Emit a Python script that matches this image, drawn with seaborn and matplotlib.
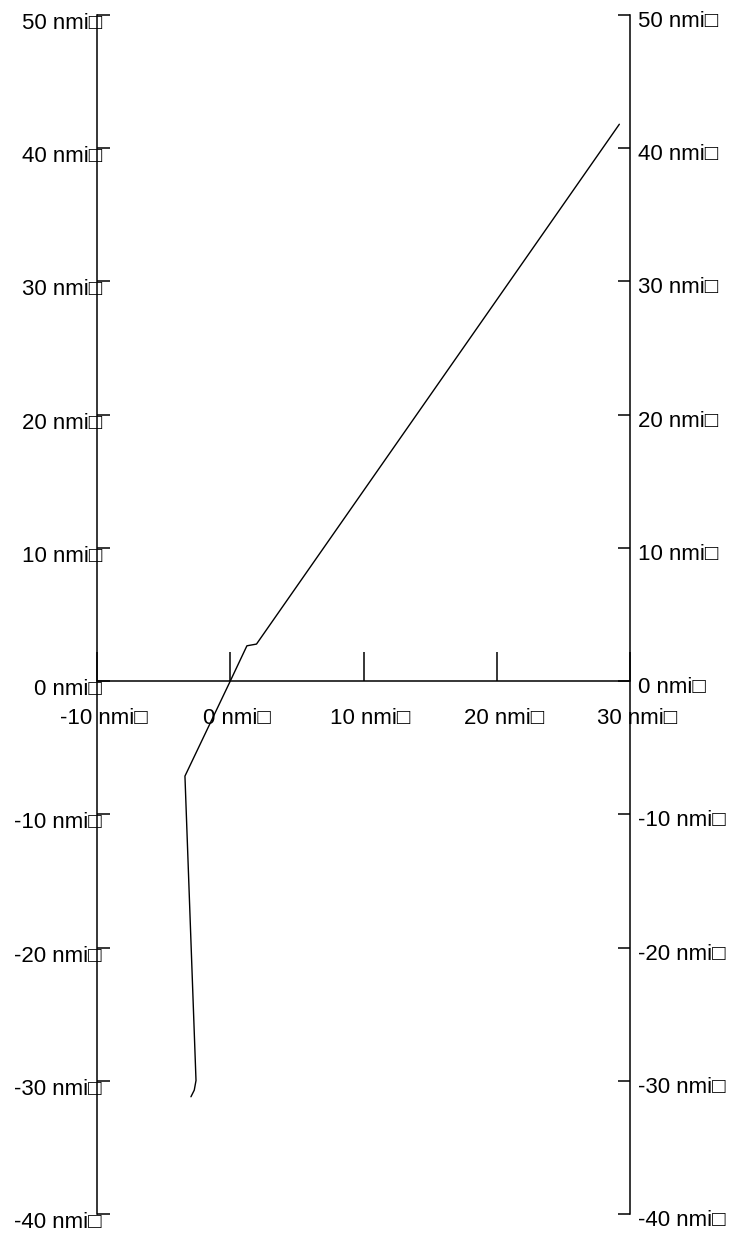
import numpy as np
import pandas as pd
import matplotlib
matplotlib.use("Agg")
import matplotlib.pyplot as plt
import matplotlib.transforms as mtransforms
import seaborn as sns

# track positions (nmi)
track_x = [29.2, 1.97, 1.25, 0.0, -3.4, -2.57, -2.7, -2.95]
track_y = [41.8, 2.78, 2.65, 0.0, -7.13, -29.98, -30.7, -31.2]

x_ticks = [-10, 0, 10, 20, 30]
y_ticks = [-40, -30, -20, -10, 0, 10, 20, 30, 40, 50]
unit = "nmi\u25a1"

sns.set_style("white")
plt.rcParams['font.family'] = ['Liberation Sans', 'DejaVu Sans']

fig = plt.figure(figsize=(7.35, 12.34), dpi=100)
ax = fig.add_axes([97 / 735, 20 / 1234, 533 / 735, 1199 / 1234])

df = pd.DataFrame({"x": track_x, "y": track_y})
sns.lineplot(data=df, x="x", y="y", sort=False, estimator=None,
             color="black", lw=1.0, ax=ax)

ax.set_xlim(-10, 30)
ax.set_ylim(-40, 50)
ax.set_xlabel("")
ax.set_ylabel("")

ax.spines['top'].set_visible(False)
ax.spines['bottom'].set_position(('data', 0))
for s in ['left', 'right', 'bottom']:
    ax.spines[s].set_color('black')
    ax.spines[s].set_linewidth(1.1)

ax.set_xticks(x_ticks)
ax.set_xticklabels([f"{v} {unit}" for v in x_ticks])
ax.set_yticks(y_ticks)
ax.set_yticklabels([f"{v} {unit}" for v in y_ticks])

ax.tick_params(axis='x', direction='in', length=21, width=1.1, color='black',
               bottom=True, pad=19, labelsize=16, labelcolor='black')
ax.tick_params(axis='y', direction='in', length=9, width=1.1, color='black',
               left=True, right=True, labelleft=True, labelright=True,
               pad=5.8, labelsize=16, labelcolor='black')

# nudge tick labels to sit like the reference
px = 1 / 100
for t in ax.xaxis.get_major_ticks():
    t.label1.set_transform(t.label1.get_transform() +
                           mtransforms.ScaledTranslation(7 * px, 0, fig.dpi_scale_trans))
for t in ax.yaxis.get_major_ticks():
    t.label1.set_transform(t.label1.get_transform() +
                           mtransforms.ScaledTranslation(13 * px, -6 * px, fig.dpi_scale_trans))
    t.label2.set_transform(t.label2.get_transform() +
                           mtransforms.ScaledTranslation(0, -4 * px, fig.dpi_scale_trans))

fig.savefig("out.png", dpi=100, facecolor="white")
